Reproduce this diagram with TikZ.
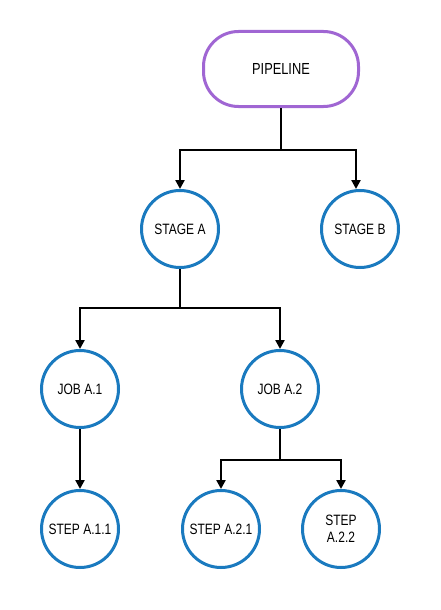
\documentclass[tikz,border=0pt]{standalone}
\usepackage{fontspec}
\setmainfont{Liberation Sans}[FakeStretch=0.8]
\usetikzlibrary{arrows.meta}
\definecolor{blueC}{HTML}{1A7ABF}
\definecolor{purpC}{HTML}{A066D3}
\begin{document}
\begin{tikzpicture}[x=1pt,y=-1pt,
 circ/.style={circle,draw=blueC,line width=3pt,minimum size=77pt,inner sep=0pt,font=\fontsize{15}{17}\selectfont,align=center},
 pipe/.style={rectangle,rounded corners=35pt,draw=purpC,line width=3pt,minimum width=155pt,minimum height=75pt,font=\fontsize{16}{18}\selectfont},
 link/.style={line width=2.5pt},
 conn/.style={line width=2.5pt,-{Triangle[length=9pt,width=9pt]}}
]
\useasboundingbox (0,0) rectangle (441,610);
\node[pipe] (p) at (281,69) {PIPELINE};
\node[circ] (sa) at (180,229) {STAGE A};
\node[circ] (sb) at (360,229) {STAGE B};
\node[circ] (ja1) at (80,389) {JOB A.1};
\node[circ] (ja2) at (280,389) {JOB A.2};
\node[circ] (s11) at (80,529) {STEP A.1.1};
\node[circ] (s21) at (221,529) {STEP A.2.1};
\node[circ] (s22) at (341,529) {STEP\\A.2.2};
\coordinate (jp) at (281,150);
\coordinate (js) at (180,308);
\coordinate (jj) at (280,460);
\draw[link] (p.south) -- (jp);
\draw[conn] (jp) -| (sa.north);
\draw[conn] (jp) -| ([xshift=-4pt]sb.north);
\draw[link] (sa.south) -- (js);
\draw[conn] (js) -| (ja1.north);
\draw[conn] (js) -| (ja2.north);
\draw[conn] (ja1.south) -- (s11.north);
\draw[link] (ja2.south) -- (jj);
\draw[conn] (jj) -| (s21.north);
\draw[conn] (jj) -| (s22.north);
\end{tikzpicture}
\end{document}
